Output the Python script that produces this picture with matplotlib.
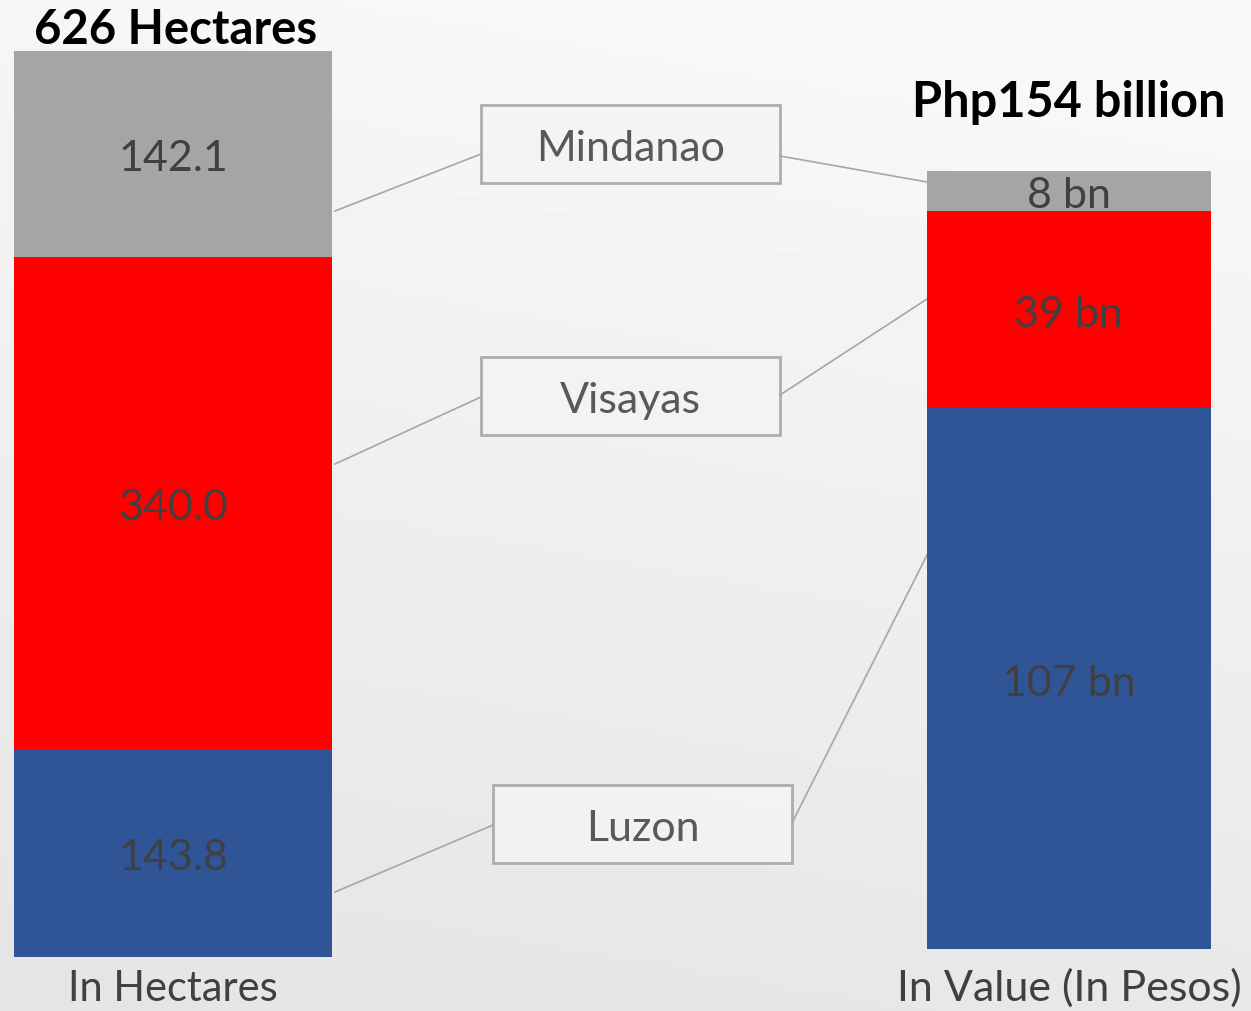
import numpy as np
import matplotlib.pyplot as plt
from matplotlib.patches import Rectangle

plt.rcParams['font.family'] = ['Lato', 'DejaVu Sans']

# data
regions = ['Luzon', 'Visayas', 'Mindanao']
hectares = [143.8, 340.0, 142.1]
value_bn = [107, 39, 8]
colors = ['#2F5597', '#FF0000', '#A5A5A5']
left_title = '626 Hectares'
right_title = 'Php154 billion'
left_caption = 'In Hectares'
right_caption = 'In Value (In Pesos)'

W, H = 1251, 1012
fig = plt.figure(figsize=(12.51, 10.12), dpi=100)


def px(x0, y0, x1, y1):
    # pixel box (top-left origin) -> figure fraction rect
    return [x0 / W, 1 - y1 / H, (x1 - x0) / W, (y1 - y0) / H]


# faded background
bg = fig.add_axes([0, 0, 1, 1], zorder=0)
yy, xx = np.mgrid[0:1:200j, 0:1:200j]
grad = 0.965 - 0.07 * yy + 0.015 * xx
bg.imshow(grad, cmap='gray', vmin=0, vmax=1, aspect='auto', extent=[0, 1, 0, 1], origin='upper')
bg.axis('off')

# overlay for boxes, connectors and titles (pixel coordinates)
ov = fig.add_axes([0, 0, 1, 1], zorder=1)
ov.set_xlim(0, W)
ov.set_ylim(H, 0)
ov.axis('off')
ov.patch.set_alpha(0)


def stacked(rect, vals, fmt):
    ax = fig.add_axes(rect, zorder=2)
    bottoms = np.concatenate([[0], np.cumsum(vals)[:-1]])
    ax.bar(0, vals, bottom=bottoms, width=1.0, color=colors)
    for b, v in zip(bottoms, vals):
        ax.annotate(fmt(v), (0, b + v / 2), xytext=(0, -3), textcoords='offset points',
                    ha='center', va='center', fontsize=31, color='#404040')
    ax.set_xlim(-0.5, 0.5)
    ax.set_ylim(0, sum(vals))
    ax.axis('off')
    return ax


stacked(px(14, 52, 332, 958), hectares, lambda v: f'{v:.1f}')
stacked(px(927, 172, 1211, 950), value_bn, lambda v: f'{v} bn')

# label boxes
boxes = {
    'Mindanao': (481, 106, 780, 184),
    'Visayas': (481, 358, 780, 436),
    'Luzon': (493, 786, 792, 864),
}
for name, (x0, y0, x1, y1) in boxes.items():
    ov.add_patch(Rectangle((x0, y0), x1 - x0, y1 - y0, facecolor='#F4F4F4',
                           edgecolor='#A6A6A6', linewidth=2, alpha=0.9))
    ov.text((x0 + x1) / 2, (y0 + y1) / 2 + 4, name, ha='center', va='center',
            fontsize=31, color='#595959')

# connectors
links = [
    ((335, 212), (481, 155)), ((780, 157), (927, 183)),
    ((335, 465), (481, 398)), ((780, 396), (927, 300)),
    ((335, 893), (493, 826)), ((792, 824), (927, 556)),
]
for (a, b) in links:
    ov.plot([a[0], b[0]], [a[1], b[1]], color='#A6A6A6', linewidth=1.2)

# titles / captions
ov.text(176, 30, left_title, ha='center', va='center', fontsize=34,
        fontweight='bold', color='black')
ov.text(1069, 102, right_title, ha='center', va='center', fontsize=35,
        fontweight='bold', color='black')
ov.text(173, 989, left_caption, ha='center', va='center', fontsize=30,
        color='#404040')
ov.text(1069, 988, right_caption, ha='center', va='center', fontsize=31,
        color='#404040')

fig.savefig('out.png', dpi=100)
